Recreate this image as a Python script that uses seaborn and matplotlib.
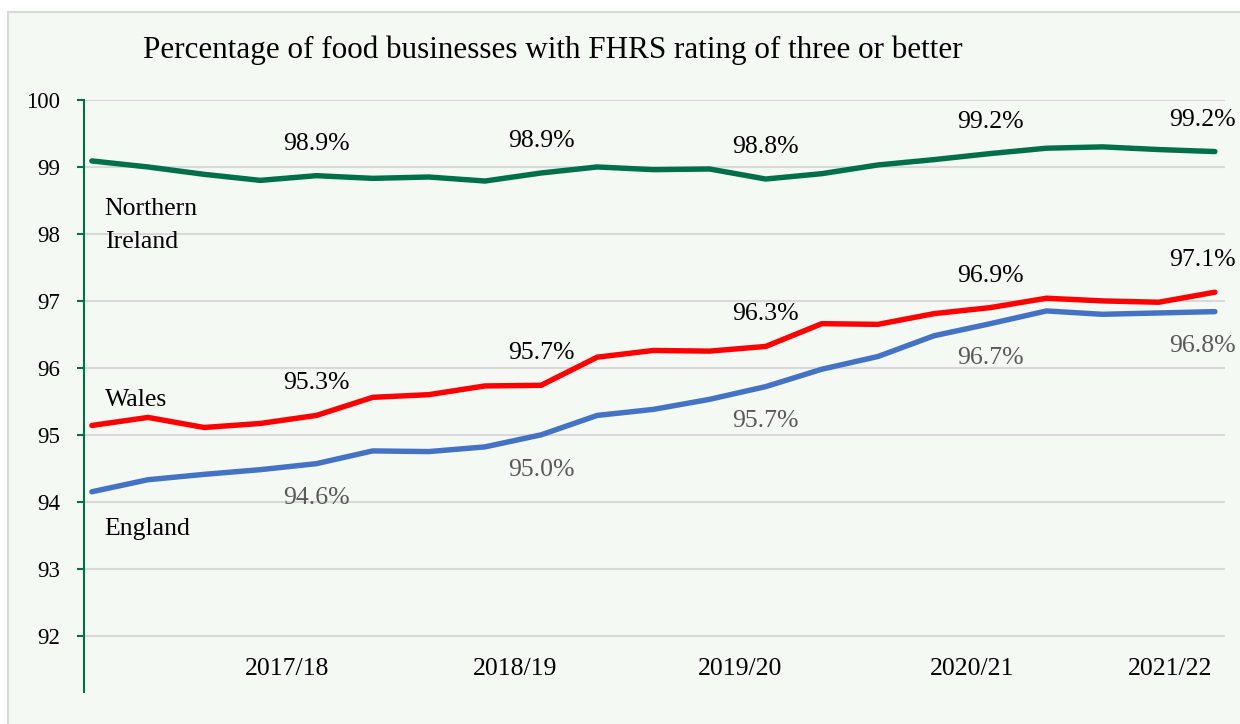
import numpy as np
import pandas as pd
import matplotlib
matplotlib.use("Agg")
import matplotlib.pyplot as plt
from matplotlib.patches import Rectangle
import seaborn as sns

# Quarterly share (%) of food businesses rated 3 or better
quarter_index = list(range(21))
northern_ireland = [99.09, 99.00, 98.89, 98.80, 98.87, 98.83, 98.85, 98.79, 98.91, 99.00,
                    98.96, 98.97, 98.82, 98.90, 99.03, 99.11, 99.20, 99.28, 99.30, 99.26, 99.23]
wales = [95.14, 95.26, 95.11, 95.17, 95.29, 95.56, 95.60, 95.73, 95.74, 96.16,
         96.26, 96.25, 96.32, 96.66, 96.65, 96.81, 96.90, 97.04, 97.00, 96.98, 97.13]
england = [94.15, 94.33, 94.41, 94.48, 94.57, 94.76, 94.75, 94.82, 95.00, 95.29,
           95.38, 95.53, 95.72, 95.98, 96.17, 96.48, 96.66, 96.85, 96.80, 96.82, 96.84]

series_names = ["Northern Ireland", "Wales", "England"]
series_colors = ["#00704A", "#FF0000", "#4472C4"]
label_colors = ["#000000", "#000000", "#595959"]
label_above = [True, True, False]
labelled_points = [4, 8, 12, 16, 20]

year_labels = ["2017/18", "2018/19", "2019/20", "2020/21", "2021/22"]
year_label_pos = [3.47, 7.53, 11.54, 15.67, 19.2]
y_ticks = [92, 93, 94, 95, 96, 97, 98, 99, 100]

df = pd.DataFrame({
    "quarter": quarter_index * 3,
    "pct": northern_ireland + wales + england,
    "nation": sum([[n] * len(quarter_index) for n in series_names], []),
})

sns.set_theme(style="white")
plt.rcParams["font.family"] = ["Liberation Serif", "DejaVu Serif"]

W, H = 1240, 724
fig = plt.figure(figsize=(W / 100, H / 100), dpi=100, facecolor="white")
bg = "#F4F9F4"
fig.patches.append(Rectangle((8 / W, -0.01), 1.0, 1 - 12 / H + 0.01,
                             transform=fig.transFigure, facecolor=bg,
                             edgecolor="#D9D9D9", linewidth=1.5, zorder=-10))

ax = fig.add_axes([84 / W, 1 - 692 / H, (1225 - 84) / W, (692 - 100) / H])
ax.set_facecolor("none")
ax.set_zorder(2)

sns.lineplot(data=df, x="quarter", y="pct", hue="nation", hue_order=series_names,
             palette=series_colors, linewidth=3.9, legend=False, ax=ax,
             solid_joinstyle="round", solid_capstyle="round", zorder=3)

ax.set_xlim(-0.14, 20.18)
ax.set_ylim(91.16, 100)
ax.set_yticks(y_ticks)
ax.set_yticklabels([str(t) for t in y_ticks])
ax.set_xticks([])
ax.set_xlabel("")
ax.set_ylabel("")
for t in y_ticks:
    ax.axhline(t, color="#D9D9D9", linewidth=1.5, zorder=1)

for s in ["top", "right", "bottom"]:
    ax.spines[s].set_visible(False)
ax.spines["left"].set_color("#00704A")
ax.spines["left"].set_linewidth(1.5)
ax.tick_params(axis="y", which="major", left=True, length=5, width=1.5,
               color="#00704A", pad=12, labelcolor="#000000", labelsize=16.5)

# Value labels at each year-end quarter
for vals, lc, above in zip([northern_ireland, wales, england], label_colors, label_above):
    for i in labelled_points:
        dx = -9 if i == quarter_index[-1] else 0
        dy = 23 if above else -25
        ax.annotate(f"{vals[i]:.1f}%", (quarter_index[i], vals[i]),
                    xytext=(dx, dy), textcoords="offset points",
                    ha="center", va="center", fontsize=18.5, color=lc, zorder=4)

# Series names beside the start of each line
ax.text(0.23, 98.13, "Northern\nIreland", ha="left", va="center", fontsize=18.5,
        linespacing=1.65, color="#000000")
ax.text(0.23, 95.52, "Wales", ha="left", va="center", fontsize=18.5, color="#000000")
ax.text(0.23, 93.60, "England", ha="left", va="center", fontsize=18.5, color="#000000")

# Financial-year labels along the bottom
for pos, lab in zip(year_label_pos, year_labels):
    ax.text(pos, 91.51, lab, ha="center", va="center", fontsize=18.5, color="#000000")

fig.text(143 / W, 1 - 50 / H,
         "Percentage of food businesses with FHRS rating of three or better",
         ha="left", va="center", fontsize=22.4, color="#000000")

fig.savefig("out.png", dpi=100, facecolor="white")
